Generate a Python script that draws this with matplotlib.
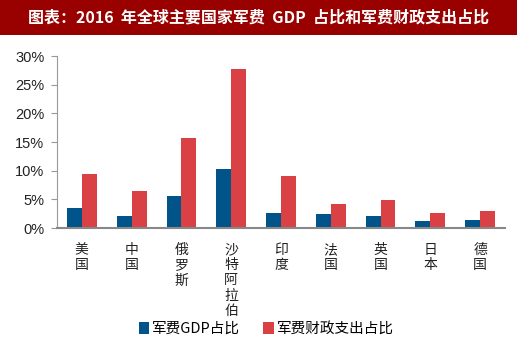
import matplotlib
matplotlib.use("Agg")
import matplotlib.pyplot as plt
import numpy as np
from matplotlib.patches import Rectangle

plt.rcParams['font.family'] = ['Noto Sans CJK SC', 'DejaVu Sans']

# data (percent)
countries = ["美国", "中国", "俄罗斯", "沙特阿拉伯", "印度", "法国", "英国", "日本", "德国"]
gdp_share = [3.5, 2.1, 5.5, 10.3, 2.7, 2.5, 2.1, 1.3, 1.4]
fiscal_share = [9.4, 6.5, 15.7, 27.7, 9.1, 4.2, 4.8, 2.7, 3.0]
yticks = [0, 5, 10, 15, 20, 25, 30]
title = "图表：2016  年全球主要国家军费  GDP  占比和军费财政支出占比"
series_names = ["军费GDP占比", "军费财政支出占比"]

blue = "#00548A"
red = "#D94145"

fig = plt.figure(figsize=(5.17, 3.46), dpi=100)

# title banner
fig.patches.append(Rectangle((0, 1 - 35 / 346), 1, 35 / 346, transform=fig.transFigure,
                             facecolor="#990000", edgecolor="none", zorder=0))
fig.text(0.5, 1 - 17.5 / 346, title, color="white", fontsize=11.5, fontweight="bold",
         ha="center", va="center")

ax = fig.add_axes([57 / 517, 1 - 228 / 346, (505 - 57) / 517, (228 - 56) / 346])
x = np.arange(len(countries))
w = 0.3
ax.bar(x - w / 2, gdp_share, w, color=blue, label=series_names[0], zorder=2)
ax.bar(x + w / 2, fiscal_share, w, color=red, label=series_names[1], zorder=2)

ax.set_xlim(-0.5, len(countries) - 0.5)
ax.set_ylim(0, 30)
ax.set_yticks(yticks)
ax.set_yticklabels([f"{v}%" for v in yticks], family="Liberation Sans", fontsize=10.5,
                   color="#222222")
ax.set_xticks(x)
ax.set_xticklabels(["\n".join(c) for c in countries], fontsize=10, linespacing=1.1,
                   va="top", color="#222222")

for s in ["top", "right"]:
    ax.spines[s].set_visible(False)
ax.spines["left"].set_color("#999999")
ax.spines["bottom"].set_color("#888888")
ax.spines["bottom"].set_linewidth(1.5)
ax.tick_params(axis="y", length=4, color="#999999", pad=5)
ax.tick_params(axis="x", length=0, pad=11)

fig.legend(loc="center", bbox_to_anchor=(0.515, 1 - 329 / 346), ncol=2, frameon=False,
           fontsize=10.5, handlelength=0.7, handleheight=0.9, handletextpad=0.2,
           columnspacing=1.6)

fig.savefig("out.png", dpi=100)
